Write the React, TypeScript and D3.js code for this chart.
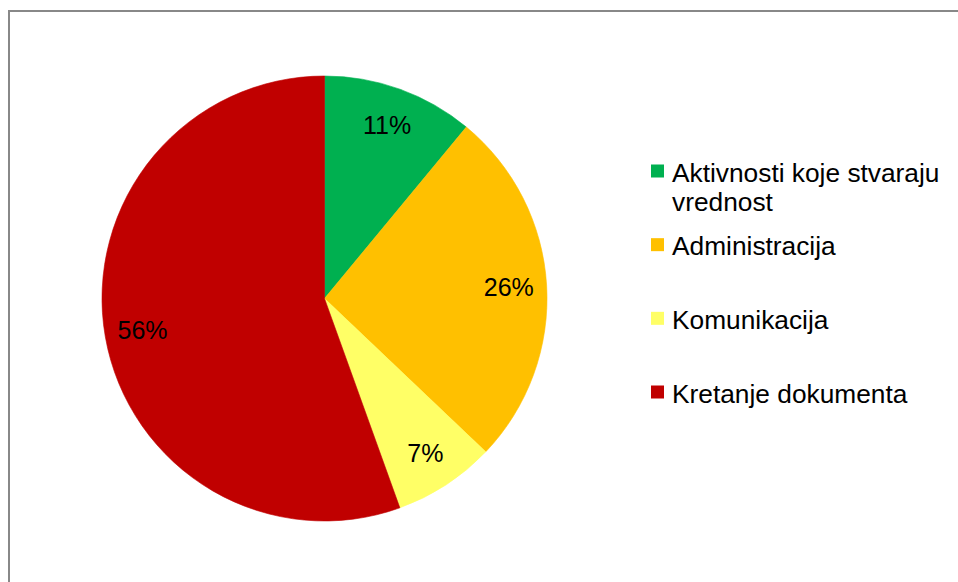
import React from "react";
import * as d3 from "d3";

const categories = [
  "Aktivnosti koje stvaraju vrednost",
  "Administracija",
  "Komunikacija",
  "Kretanje dokumenta",
];
const legendLines = [
  ["Aktivnosti koje stvaraju", "vrednost"],
  ["Administracija"],
  ["Komunikacija"],
  ["Kretanje dokumenta"],
];
const values = [11.0, 26.1, 7.4, 55.5];
const labels = ["11%", "26%", "7%", "56%"];
const colors = ["#00B050", "#FFC000", "#FFFF66", "#C00000"];

const W = 958;
const H = 582;
const cx = 324.5;
const cy = 298.5;
const R = 222.5;
const FONT = "'Liberation Sans', Arial, sans-serif";

export default function App() {
  const pie = d3
    .pie<number>()
    .sort(null)
    .value((d) => d)
    .startAngle(0)
    .endAngle(2 * Math.PI);
  const arcs = pie(values);
  const arc = d3.arc<d3.PieArcDatum<number>>().innerRadius(0).outerRadius(R);
  const labelArc = d3
    .arc<d3.PieArcDatum<number>>()
    .innerRadius(R * 0.83)
    .outerRadius(R * 0.83);

  const legendY = d3
    .scaleLinear()
    .domain([0, categories.length - 1])
    .range([181.5, 402.5]);

  return (
    <svg
      width={W}
      height={H}
      style={{ position: "absolute", left: 0, top: 0, background: "#fff" }}
    >
      <rect x={0} y={0} width={W} height={H} fill="#fff" />
      <rect
        x={9}
        y={11}
        width={W + 20}
        height={H + 20}
        fill="none"
        stroke="#888888"
        strokeWidth={2}
      />
      <g transform={`translate(${cx},${cy})`}>
        {arcs.map((a, i) => (
          <path
            key={categories[i]}
            d={arc(a) || ""}
            fill={colors[i]}
            stroke={colors[i]}
            strokeWidth={0.6}
          />
        ))}
        {arcs.map((a, i) => {
          const [x, y] = labelArc.centroid(a);
          return (
            <text
              key={"l" + i}
              x={x}
              y={y}
              textAnchor="middle"
              dominantBaseline="central"
              fontFamily={FONT}
              fontSize={25}
              fill="#000"
            >
              {labels[i]}
            </text>
          );
        })}
      </g>
      <g>
        {categories.map((c, i) => {
          const by = legendY(i);
          return (
            <g key={"lg" + c}>
              <rect x={651} y={by - 17} width={13} height={13} fill={colors[i]} />
              <text fontFamily={FONT} fontSize={26.3} fill="#000">
                {legendLines[i].map((ln, j) => (
                  <tspan key={j} x={672} y={by + j * 29}>
                    {ln}
                  </tspan>
                ))}
              </text>
            </g>
          );
        })}
      </g>
    </svg>
  );
}
